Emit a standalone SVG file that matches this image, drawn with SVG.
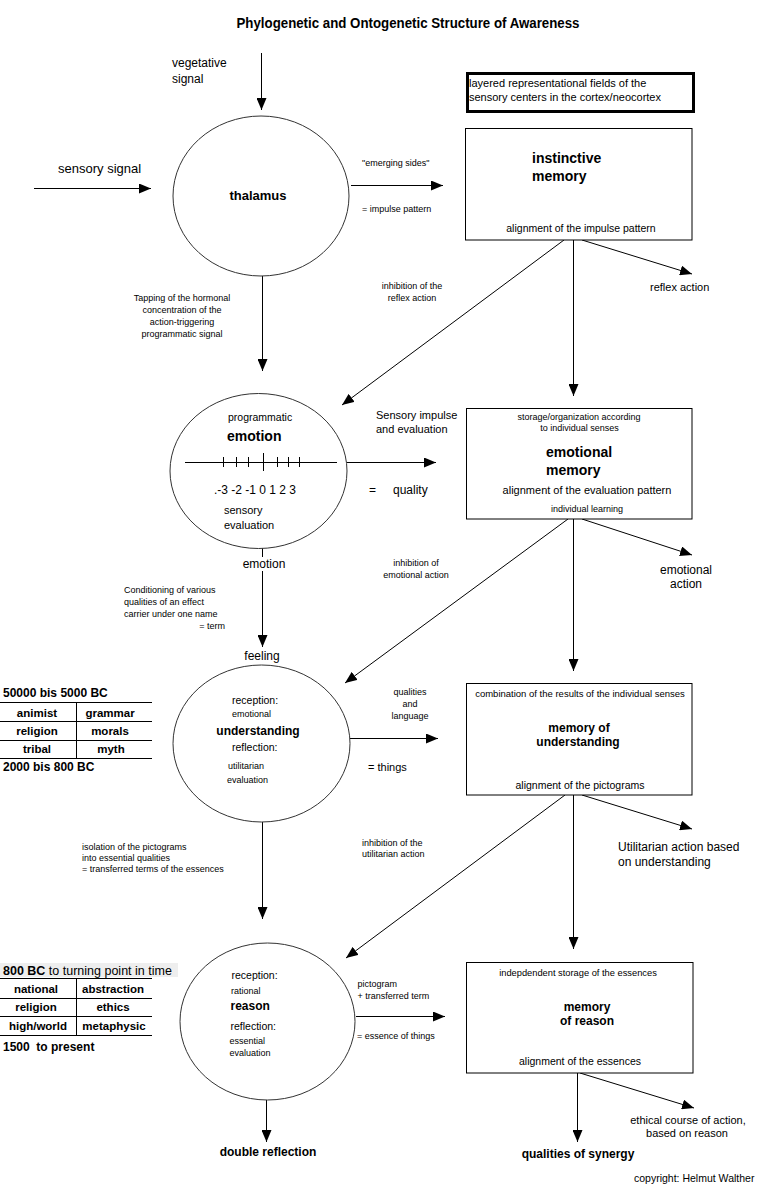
<svg xmlns="http://www.w3.org/2000/svg" width="762" height="1190" viewBox="0 0 762 1190">
<defs>
<marker id="ah" markerUnits="userSpaceOnUse" markerWidth="12" markerHeight="10" refX="12" refY="5" orient="auto">
<path d="M0,0 L12,5 L0,10 Z" fill="#000"/>
</marker>
<style>
text{font-family:"Liberation Sans",Arial,sans-serif;fill:#000}
.b{font-weight:bold}
.f9{font-size:9px}.f95{font-size:9.5px}.f10{font-size:10.5px}.f11{font-size:11px}.f12{font-size:12px}.f13{font-size:13px}.f14{font-size:14px}
.m{text-anchor:middle}
.box{fill:#fff;stroke:#000;stroke-width:1}
.circ{fill:#fff;stroke:#333;stroke-width:1}
.ln{stroke:#000;stroke-width:1;fill:none}
.ar{marker-end:url(#ah)}
</style>
</defs>
<rect width="762" height="1190" fill="#fff"/>

<text x="408" y="28" class="b f14 m" textLength="343" lengthAdjust="spacingAndGlyphs">Phylogenetic and Ontogenetic Structure of Awareness</text>

<g id="connectors">
<path class="ln ar" d="M261.5,53 V110"/>
<path class="ln ar" d="M34,188.5 H151"/>
<path class="ln ar" d="M351,185.5 H443"/>
<path class="ln ar" d="M262.5,276 V371"/>
<path class="ln ar" d="M564,240 L342,405"/>
<path class="ln ar" d="M573.5,240 V396"/>
<path class="ln ar" d="M582,240 L692,274"/>
<path class="ln ar" d="M347,462.5 H436"/>
<path class="ln" d="M262.5,548 V557"/>
<path class="ln ar" d="M262.5,571 V647"/>
<path class="ln ar" d="M568,519 L345,683"/>
<path class="ln ar" d="M573.5,519 V671"/>
<path class="ln ar" d="M582,519 L692,555"/>
<path class="ln ar" d="M350,738.5 H438"/>
<path class="ln ar" d="M262.5,822 V919"/>
<path class="ln ar" d="M565,795 L346,958"/>
<path class="ln ar" d="M573.5,795 V949"/>
<path class="ln ar" d="M582,795 L692,829"/>
<path class="ln ar" d="M356,1016.5 H445"/>
<path class="ln ar" d="M266.5,1100 V1142"/>
<path class="ln ar" d="M577.5,1073 V1142"/>
<path class="ln ar" d="M580,1073 L694,1108"/>
</g>

<g id="vegetative-signal">
<text x="172" y="67" class="f12">vegetative</text>
<text x="172" y="83" class="f12">signal</text>
</g>

<g id="sensory-signal">
<text x="58" y="173" class="f13">sensory signal</text>
</g>

<g id="cortex-fields">
<rect x="467.5" y="73.5" width="226" height="38" fill="#fff" stroke="#000" stroke-width="3"/>
<text x="469" y="87" class="f11">layered representational fields of the</text>
<text x="469" y="101" class="f11">sensory centers in the cortex/neocortex</text>
</g>

<g id="thalamus">
<ellipse class="circ" cx="261" cy="196" rx="88" ry="80"/>
<text x="258" y="200" class="b f13 m">thalamus</text>
</g>

<g id="labels-thalamus">
<text x="362" y="166" class="f9">"emerging sides"</text>
<text x="362" y="212" class="f9">= impulse pattern</text>
<text x="182" y="301" class="f9 m">Tapping of the hormonal</text>
<text x="182" y="313" class="f9 m">concentration of the</text>
<text x="182" y="325" class="f9 m">action-triggering</text>
<text x="182" y="337" class="f9 m">programmatic signal</text>
<text x="412" y="289" class="f9 m">inhibition of the</text>
<text x="412" y="301" class="f9 m">reflex action</text>
<text x="650" y="291" class="f11">reflex action</text>
</g>

<g id="instinctive-memory">
<rect class="box" x="465.5" y="128.5" width="226.5" height="111.5"/>
<text x="532" y="163" class="b f14">instinctive</text>
<text x="532" y="181" class="b f14">memory</text>
<text x="581" y="232" class="f10 m">alignment of the impulse pattern</text>
</g>

<g id="emotion">
<ellipse class="circ" cx="258.5" cy="471" rx="88.5" ry="77.5"/>
<text x="228" y="421" class="f10">programmatic</text>
<text x="227" y="441" class="b f14">emotion</text>
<path class="ln" d="M185,462.5 H337"/>
<path class="ln" d="M223.5,457 V467 M236.5,457 V467 M248.5,457 V467 M277.5,457 V467 M288.5,457 V467 M299.5,457 V467 M263.5,453 V471"/>
<text x="214" y="494" class="f12">.-3 -2 -1 0 1 2 3</text>
<text x="224" y="514" class="f11">sensory</text>
<text x="224" y="529" class="f11">evaluation</text>
</g>

<g id="labels-emotion">
<text x="376" y="419" class="f11">Sensory impulse</text>
<text x="376" y="433" class="f11">and evaluation</text>
<text x="369" y="494" class="f12">=</text>
<text x="393" y="494" class="f12">quality</text>
<text x="264" y="568" class="f12 m">emotion</text>
<text x="416" y="566" class="f9 m">inhibition of</text>
<text x="416" y="578" class="f9 m">emotional action</text>
<text x="686" y="574" class="f12 m">emotional</text>
<text x="686" y="588" class="f12 m">action</text>
<text x="124" y="593" class="f9">Conditioning of various</text>
<text x="124" y="605" class="f9">qualities of an effect</text>
<text x="124" y="617" class="f9">carrier under one name</text>
<text x="225" y="629" class="f9" text-anchor="end">= term</text>
<text x="262" y="660" class="f12 m">feeling</text>
</g>

<g id="emotional-memory">
<rect class="box" x="466.5" y="408.5" width="225.5" height="110.5"/>
<text x="579" y="420" class="f9 m">storage/organization according</text>
<text x="579.5" y="431" class="f9 m">to individual senses</text>
<text x="546" y="457" class="b f14">emotional</text>
<text x="546" y="475" class="b f14">memory</text>
<text x="587" y="494" class="f11 m">alignment of the evaluation pattern</text>
<text x="587" y="512" class="f9 m">individual learning</text>
</g>

<g id="table-understanding">
<text x="3" y="697" class="b f12">50000 bis 5000 BC</text>
<path class="ln" d="M0,702.5 H152 M0,721.5 H152 M0,740.5 H152 M0,758.5 H152 M76.5,702 V758"/>
<text x="37" y="717" class="b" font-size="11.5" text-anchor="middle">animist</text>
<text x="110" y="717" class="b" font-size="11.5" text-anchor="middle">grammar</text>
<text x="37" y="735" class="b" font-size="11.5" text-anchor="middle">religion</text>
<text x="110" y="735" class="b" font-size="11.5" text-anchor="middle">morals</text>
<text x="37" y="753" class="b" font-size="11.5" text-anchor="middle">tribal</text>
<text x="111" y="753" class="b" font-size="11.5" text-anchor="middle">myth</text>
<text x="3" y="771" class="b f12">2000 bis 800 BC</text>
</g>

<g id="understanding">
<ellipse class="circ" cx="261.5" cy="743.5" rx="88.5" ry="78.5"/>
<text x="232" y="704" class="f10">reception:</text>
<text x="232" y="717" class="f9">emotional</text>
<text x="258" y="735" class="b f12 m">understanding</text>
<text x="232" y="751" class="f10">reflection:</text>
<text x="228" y="769" class="f9">utilitarian</text>
<text x="227" y="783" class="f9">evaluation</text>
</g>

<g id="labels-understanding">
<text x="410" y="695" class="f9 m">qualities</text>
<text x="410" y="707" class="f9 m">and</text>
<text x="410" y="719" class="f9 m">language</text>
<text x="368" y="771" class="f11">= things</text>
<text x="82" y="850" class="f9">isolation of the pictograms</text>
<text x="82" y="861" class="f9">into essential qualities</text>
<text x="82" y="872" class="f9">= transferred terms of the essences</text>
<text x="362" y="846" class="f9">inhibition of the</text>
<text x="362" y="857" class="f9">utilitarian action</text>
<text x="618" y="851" class="f12">Utilitarian action based</text>
<text x="618" y="866" class="f12">on understanding</text>
</g>

<g id="memory-of-understanding">
<rect class="box" x="466.5" y="683.5" width="225.5" height="111.5"/>
<text x="580" y="697" class="f95 m">combination of the results of the individual senses</text>
<text x="579" y="732" class="b f12 m">memory of</text>
<text x="578" y="746" class="b f12 m">understanding</text>
<text x="580" y="789" class="f10 m">alignment of the pictograms</text>
</g>

<g id="table-reason">
<rect x="0" y="963" width="178" height="14" fill="#eeeeee"/>
<text x="3" y="975" font-size="12.5"><tspan class="b">800 BC</tspan> to turning point in time</text>
<path class="ln" d="M0,978.5 H152 M0,998.5 H152 M0,1016.5 H152 M0,1035.5 H152 M76.5,978 V1035"/>
<text x="36" y="993" class="b" font-size="11.5" text-anchor="middle">national</text>
<text x="113" y="993" class="b" font-size="11.5" text-anchor="middle">abstraction</text>
<text x="36" y="1011" class="b" font-size="11.5" text-anchor="middle">religion</text>
<text x="113" y="1011" class="b" font-size="11.5" text-anchor="middle">ethics</text>
<text x="38" y="1030" class="b" font-size="11.5" text-anchor="middle">high/world</text>
<text x="114" y="1030" class="b" font-size="11.5" text-anchor="middle">metaphysic</text>
<text x="3" y="1051" class="b f12" xml:space="preserve">1500  to present</text>
</g>

<g id="reason">
<ellipse class="circ" cx="267.5" cy="1021.5" rx="87.5" ry="78.5"/>
<text x="231.5" y="979" class="f10">reception:</text>
<text x="231" y="994" class="f9">rational</text>
<text x="230.5" y="1010" class="b f12">reason</text>
<text x="230.5" y="1030" class="f10">reflection:</text>
<text x="229.5" y="1044" class="f9">essential</text>
<text x="229.5" y="1056" class="f9">evaluation</text>
</g>

<g id="labels-reason">
<text x="357.5" y="987" class="f9">pictogram</text>
<text x="357.5" y="999" class="f9">+ transferred term</text>
<text x="357" y="1039" class="f9">= essence of things</text>
<text x="268" y="1156" class="b f12 m">double reflection</text>
<text x="578" y="1158" class="b f12 m">qualities of synergy</text>
<text x="688" y="1124" class="f11 m">ethical course of action,</text>
<text x="687" y="1137" class="f11 m">based on reason</text>
<text x="634" y="1182" class="f10">copyright: Helmut Walther</text>
</g>

<g id="memory-of-reason">
<rect class="box" x="466.5" y="962.5" width="226.5" height="110.5"/>
<text x="578" y="976" class="m" font-size="9.3">indepdendent storage of the essences</text>
<text x="587" y="1011" class="b f12 m">memory</text>
<text x="587" y="1025" class="b f12 m">of reason</text>
<text x="580" y="1065" class="f10 m">alignment of the essences</text>
</g>
</svg>
